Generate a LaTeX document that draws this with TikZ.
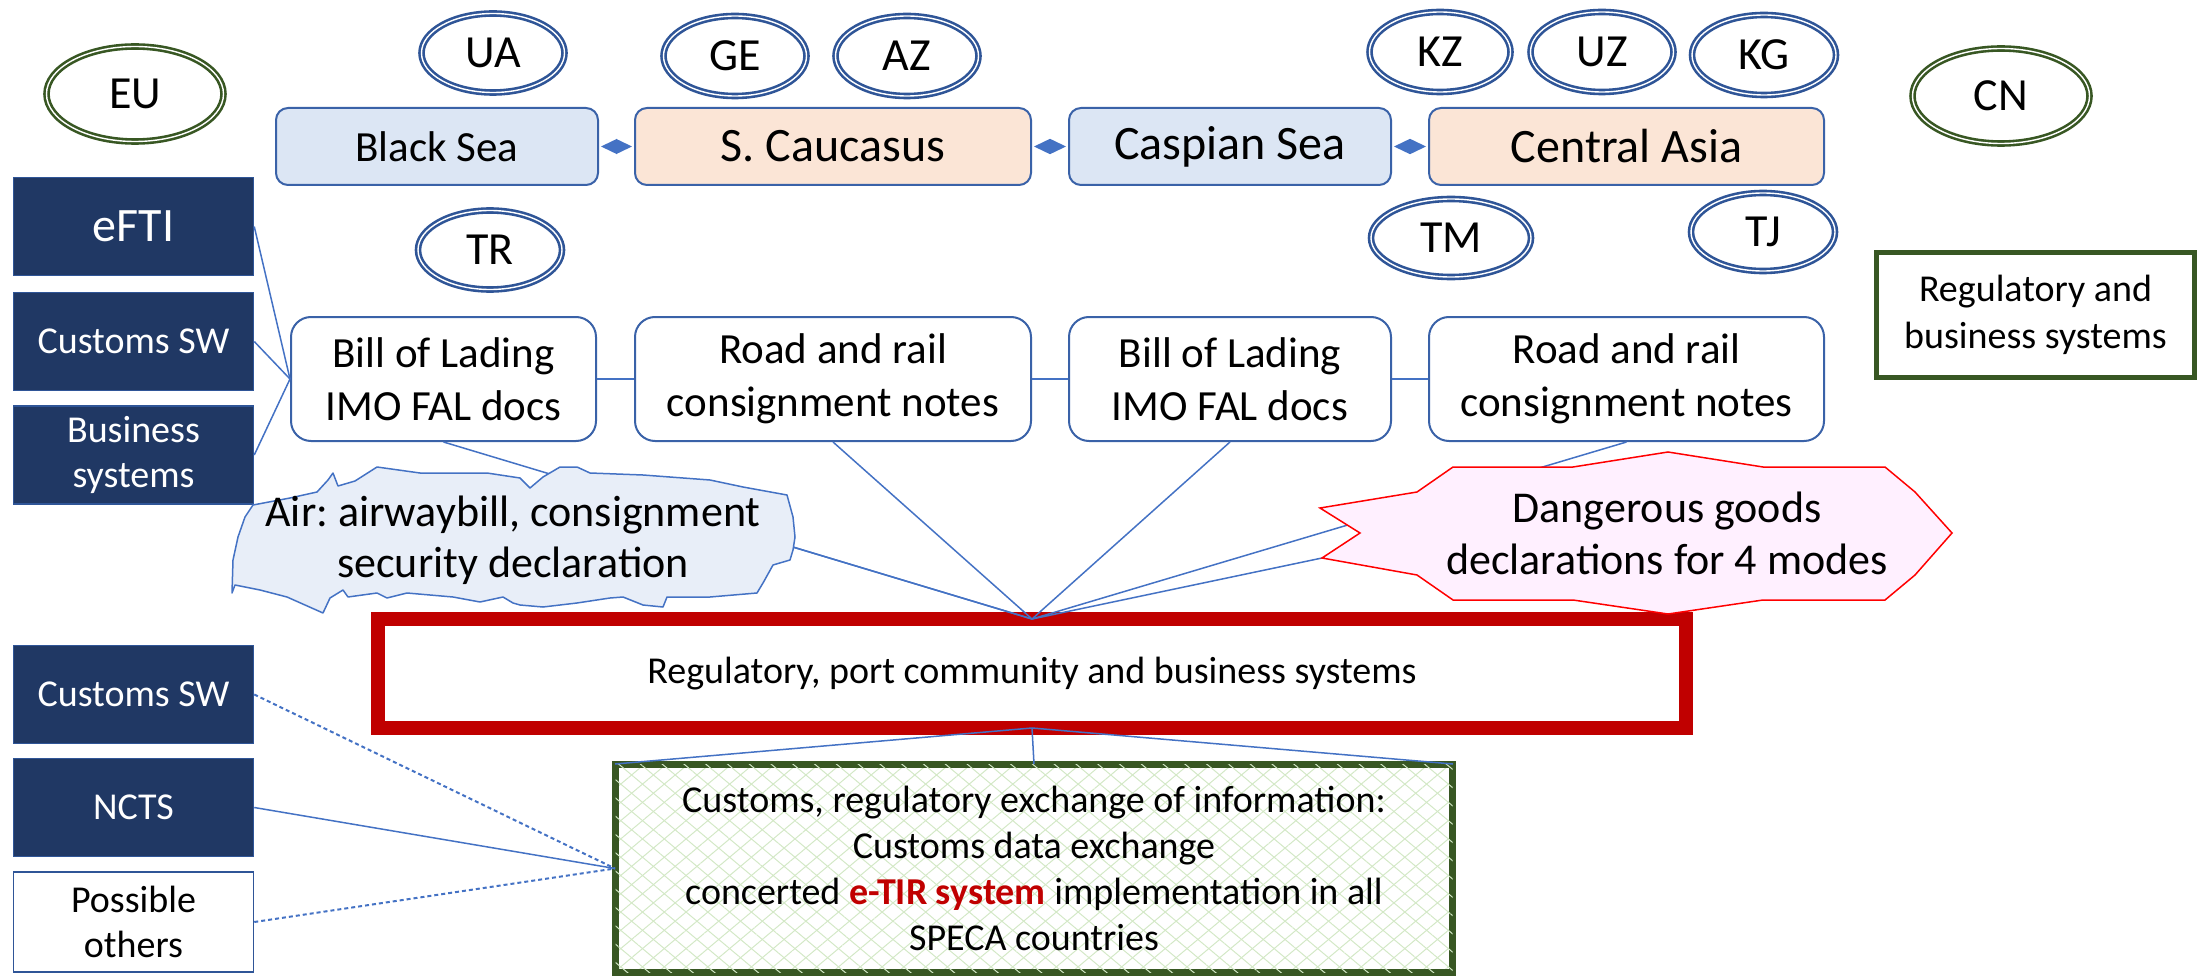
\documentclass[tikz,border=0pt]{standalone}
\usepackage{fontspec}
\setmainfont{Carlito}
\frenchspacing
\usetikzlibrary{shapes.geometric, arrows.meta, patterns.meta}
\definecolor{cline}{HTML}{4472C4}
\definecolor{cborder}{HTML}{3A62A8}
\definecolor{cdblue}{HTML}{2F5597}
\definecolor{cnavy}{HTML}{203864}
\definecolor{clblue}{HTML}{DCE6F4}
\definecolor{cpeach}{HTML}{FBE5D6}
\definecolor{cdgreen}{HTML}{385723}
\definecolor{cred}{HTML}{C00000}
\definecolor{cpat}{HTML}{D3E8C6}
\definecolor{ccloud}{HTML}{E8EEF8}
\definecolor{cstar}{HTML}{FFF0FF}
\begin{document}
\begin{tikzpicture}[x=1pt,y=-1pt,
  ctry/.style={ellipse, draw=cdblue, double=white, double distance=1.4pt, line width=2.6pt, fill=white,
    inner sep=0pt, font=\fontsize{46}{50}\selectfont},
  gctry/.style={ctry, draw=cdgreen},
  regbox/.style={rectangle, rounded corners=12pt, draw=cborder, line width=2pt, inner sep=0pt,
    minimum height=77pt, font=\fontsize{48}{54}\selectfont},
  docbox/.style={rectangle, rounded corners=20pt, draw=cborder, line width=2pt, fill=white, inner sep=0pt,
    minimum height=124pt, align=center, font=\fontsize{43}{53}\selectfont},
  navybox/.style={rectangle, draw=cdblue, line width=1.5pt, fill=cnavy, text=white, inner sep=0pt,
    minimum width=240pt, minimum height=98pt, align=center, font=\fontsize{38}{45}\selectfont},
  conn/.style={draw=cline, line width=1.5pt},
  dconn/.style={draw=cline, line width=2pt, dash pattern=on 4pt off 3pt},
  dblarrow/.style={draw=cline, line width=1.5pt, {Triangle[length=16pt,width=15pt]}-{Triangle[length=16pt,width=15pt]}, shorten <=2pt, shorten >=2pt}
]
\useasboundingbox (0,0) rectangle (2202,976);

% ---- country ellipses
\node[gctry, minimum width=177pt, minimum height=95pt] (eu) at (135,94) {EU};
\node[gctry, minimum width=177pt, minimum height=95pt] (cn) at (2001,96) {CN};
\node[ctry, minimum width=143pt, minimum height=79pt] (ua) at (493,53) {UA};
\node[ctry, minimum width=143pt, minimum height=80pt] (ge) at (735,56) {GE};
\node[ctry, minimum width=143pt, minimum height=80pt] (az) at (907,56) {AZ};
\node[ctry, minimum width=141pt, minimum height=80pt] (kz) at (1440,52) {KZ};
\node[ctry, minimum width=143pt, minimum height=80pt] (uz) at (1602,52) {UZ};
\node[ctry, minimum width=144pt, minimum height=80pt] (kg) at (1764,55) {KG};
\node[ctry, minimum width=144pt, minimum height=79pt] (tr) at (490,250) {TR};
\node[ctry, minimum width=160pt, minimum height=78pt] (tm) at (1451,238) {TM};
\node[ctry, minimum width=144pt, minimum height=78pt] (tj) at (1763,232) {TJ};

% ---- regions
\node[regbox, fill=clblue, minimum width=322pt, font=\fontsize{43}{50}\selectfont] (bs) at (437,146.5) {Black Sea};
\node[regbox, fill=cpeach, minimum width=396pt] (sc) at (833,146.5) {S. Caucasus};
\node[regbox, fill=clblue, minimum width=322pt] (cs) at (1230,146.5) {Caspian Sea};
\node[regbox, fill=cpeach, minimum width=395pt] (ca) at (1626.5,146.5) {Central Asia};
\draw[dblarrow] (bs.east) -- (sc.west);
\draw[dblarrow] (sc.east) -- (cs.west);
\draw[dblarrow] (cs.east) -- (ca.west);

% ---- red and green systems boxes
\node[rectangle, draw=cred, line width=14pt, outer sep=0pt, fill=white, minimum width=1308pt, minimum height=109pt,
  inner sep=0pt, font=\fontsize{38}{45}\selectfont] (red) at (1032,673.5) {Regulatory, port community and business systems};
\node[rectangle, draw=cdgreen, line width=7pt, inner sep=0pt, minimum width=837pt, minimum height=208pt,
  pattern={Lines[angle=40,distance=14pt,line width=1pt]}, pattern color=cpat,
  postaction={pattern={Lines[angle=-40,distance=14pt,line width=1pt]}, pattern color=cpat},
  align=center, font=\fontsize{38}{46}\selectfont] (grn) at (1034,868.5)
  {Customs, regulatory exchange of information:\\ Customs data exchange\\
   concerted {\bfseries\color{cred}e-TIR system} implementation in all\\ SPECA countries};

\node[rectangle, draw=cdgreen, line width=5pt, fill=white, inner sep=0pt, minimum width=318pt, minimum height=125pt,
  align=center, font=\fontsize{38}{47}\selectfont] (rbs) at (2035.5,315) {Regulatory and\\ business systems};

% ---- document boxes
\node[docbox, minimum width=305pt] (bol1) at (443.5,379) {Bill of Lading\\ IMO FAL docs};
\node[docbox, minimum width=396pt] (rr1) at (833,379) {Road and rail\\ consignment notes};
\node[docbox, minimum width=322pt] (bol2) at (1230,379) {Bill of Lading\\ IMO FAL docs};
\node[docbox, minimum width=395pt] (rr2) at (1626.5,379) {Road and rail\\ consignment notes};
\draw[conn] (bol1.east) -- (rr1.west);
\draw[conn] (rr1.east) -- (bol2.west);
\draw[conn] (bol2.east) -- (rr2.west);

% ---- left navy boxes
\node[navybox, font=\fontsize{48}{54}\selectfont] (efti) at (133.5,226.5) {eFTI};
\node[navybox] (csw) at (133.5,341.5) {Customs SW};
\node[navybox] (bus) at (133.5,455) {Business\\ systems};
\node[navybox] (csw2) at (133.5,694.5) {Customs SW};
\node[navybox] (ncts) at (133.5,807.5) {NCTS};
\node[navybox, fill=white, text=black, minimum height=100pt] (oth) at (133.5,922) {Possible\\ others};

\draw[conn] (efti.east) -- (bol1.west);
\draw[conn] (csw.east) -- (bol1.west);
\draw[conn] (bus.east) -- (bol1.west);

\draw[dconn] (csw2.east) -- (grn.west);
\draw[conn] (ncts.east) -- (grn.west);
\draw[dconn] (oth.east) -- (grn.west);

% ---- connectors into the red box
\coordinate (cloudR) at (793,547);
\coordinate (starL) at (1322,558);
\draw[conn] (bol1.south) -- (red.north);
\draw[conn] (rr1.south) -- (red.north);
\draw[conn] (bol2.south) -- (red.north);
\draw[conn] (rr2.south) -- (red.north);
\draw[conn] (cloudR) -- (red.north);
\draw[conn] (starL) -- (red.north);
\draw[conn] (red.south) -- (grn.north west);
\draw[conn] (red.south) -- (grn.north);
\draw[conn] (red.south) -- (grn.north east);

% ---- air cloud
\draw[draw=cline, line width=1.5pt, fill=ccloud, line join=round]
 (232,593) -- (233,560) -- (238,537) -- (245,517) -- (253,505) -- (290,498) -- (317,492) -- (328,480)
 -- (333,473) -- (338,486) -- (355,481) -- (377,467) -- (420,473) -- (487,473) -- (520,478) -- (530,488)
 -- (543,477) -- (560,467) -- (577,467) -- (590,473) -- (643,475) -- (710,480) -- (743,487) -- (787,495)
 -- (793,517) -- (795,537) -- (793,550) -- (790,560) -- (773,565) -- (763,583) -- (757,593) -- (710,597)
 -- (667,597) -- (663,607) -- (643,605) -- (623,597) -- (610,598) -- (577,603) -- (543,607) -- (520,605)
 -- (513,603) -- (503,597) -- (480,602) -- (453,597) -- (407,593) -- (387,598) -- (377,593) -- (348,597)
 -- (343,590) -- (330,598) -- (323,613) -- (287,597) -- (260,590) -- (235,585) -- cycle;
\node[align=center, inner sep=0pt, font=\fontsize{44}{51}\selectfont] (air) at (513,540)
 {Air: airwaybill, consignment\\ security declaration};

% ---- dangerous goods star
\draw[draw=red, line width=1.5pt, fill=cstar, line join=miter]
 (1320,508) -- (1417,492) -- (1453,467) -- (1573,467) -- (1668,452) -- (1763,467) -- (1885,467)
 -- (1915,492) -- (1952,533) -- (1915,575) -- (1885,600) -- (1763,600) -- (1668,614) -- (1573,600)
 -- (1453,600) -- (1417,575) -- (1322,558) -- (1360,533) -- cycle;
\node[align=center, inner sep=0pt, font=\fontsize{44}{52}\selectfont] (dg) at (1667,533)
 {Dangerous goods\\ declarations for 4 modes};

\end{tikzpicture}
\end{document}
